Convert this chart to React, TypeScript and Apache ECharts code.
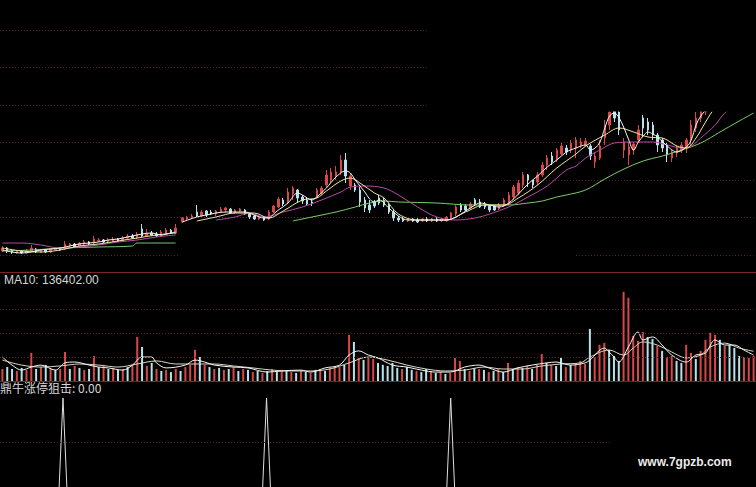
import React, { useEffect, useRef } from "react";
import * as echarts from "echarts";

// ---------- price, left (older) segment: [open, close, low, high] ----------
const leftCandles: number[][] = [
  [4.9,5.2,4.8,5.4],[5.2,4.9,4.7,5.3],[5.0,4.8,4.6,5.1],[4.7,4.9,4.6,5.0],[4.9,4.7,4.6,5.0],
  [4.7,4.9,4.6,5.1],[4.9,5.2,4.8,5.5],[5.1,4.8,4.7,5.2],[4.8,5.0,4.7,5.1],[5.0,4.8,4.7,5.1],
  [4.8,5.1,4.7,5.2],[5.0,5.2,4.9,5.3],[5.2,5.0,4.9,5.3],[5.1,5.6,5.0,5.9],[5.4,5.6,5.2,5.7],
  [5.6,5.3,5.2,5.7],[5.4,5.7,5.3,5.8],[5.6,5.8,5.5,6.0],[5.8,5.6,5.5,5.9],[5.7,6.1,5.6,6.4],
  [5.9,6.0,5.8,6.2],[6.0,5.8,5.7,6.1],[5.8,6.0,5.7,6.2],[5.9,6.1,5.8,6.3],[6.1,5.9,5.8,6.2],
  [5.9,6.2,5.8,6.4],[6.2,6.4,6.0,6.6],[6.4,6.2,6.1,6.6],[6.2,6.6,6.1,6.8],[7.1,6.4,6.3,7.6],
  [6.4,6.7,6.3,7.1],[6.7,6.5,6.4,6.9],[6.6,6.4,6.3,6.8],[6.4,6.8,6.3,7.0],[6.6,7.0,6.5,7.2],
  [7.0,6.7,6.6,7.1],[6.7,7.2,6.6,7.6],
];
const leftMA5: number[][] = [[0,5.0],[2,4.8],[4,4.7],[6,4.8],[8,5.0],[10,5.1],[12,5.2],[14,5.4],[16,5.6],[18,5.7],[20,5.8],[22,6.0],[24,6.1],[26,6.3],[28,6.5],[29,6.6],[31,6.7],[33,6.5],[35,6.7],[36,6.8]];
const leftMA10: number[][] = [[0,5.2],[4,4.9],[8,4.8],[12,5.0],[16,5.4],[20,5.6],[24,5.9],[28,6.2],[32,6.5],[36,6.7]];
const leftMA20: number[][] = [[0,5.7],[4,5.7],[8,5.5],[12,5.2],[16,5.3],[20,5.5],[24,5.8],[28,6.0],[32,6.3],[36,6.5]];
const leftMA60: number[][] = [[0,4.9],[6,5.0],[13,5.2],[20,5.3],[27,5.4],[28,5.7],[36,5.7]];

// ---------- price, right (recent) segment ----------
const rightCandles: number[][] = [
  [7.8,8.2,7.7,8.3],[8.1,8.3,7.9,8.4],[8.2,8.4,8.1,8.6],[8.8,8.4,8.3,9.5],[8.4,8.8,8.3,9.0],
  [8.9,8.5,8.3,9.0],[8.8,8.6,8.5,9.0],[8.6,8.9,8.4,9.0],[8.8,9.1,8.7,9.3],[9.0,9.2,8.7,9.3],
  [9.1,8.7,8.6,9.2],[8.7,9.0,8.6,9.1],[8.9,9.1,8.8,9.2],[9.0,8.6,8.5,9.1],[8.6,8.3,8.1,8.7],
  [8.4,8.1,8.0,8.5],[8.1,8.3,8.0,8.4],[8.3,8.0,7.9,8.4],[8.1,8.8,8.0,9.0],[8.8,9.4,8.7,9.5],
  [9.3,10.1,9.2,10.3],[10.0,9.6,9.4,10.2],[9.7,10.8,9.6,11.2],[10.6,11.2,10.0,11.4],[11.0,10.2,9.7,11.1],
  [10.3,9.9,9.6,10.5],[10.0,9.6,9.5,10.3],[9.8,9.7,9.4,10.1],[10.3,11.0,10.2,11.2],[10.7,11.2,10.5,11.4],
  [11.5,12.5,11.3,13.0],[12.0,12.8,11.7,13.2],[12.4,12.8,12.0,13.4],[12.8,14.0,12.5,14.5],[14.0,12.4,11.7,14.7],
  [11.4,12.4,11.0,12.7],[11.5,11.0,10.8,11.7],[11.0,9.8,9.3,11.3],[10.0,9.2,8.8,10.3],[9.5,9.0,8.7,10.0],
  [9.8,9.4,9.2,10.0],[10.2,9.7,9.5,10.5],[10.0,9.5,9.3,10.2],[9.5,8.8,8.6,9.7],[8.8,8.2,7.9,9.0],
  [8.2,8.0,7.8,8.4],[8.1,7.9,7.8,8.3],[7.9,8.1,7.8,8.2],[8.1,7.9,7.8,8.2],[8.0,7.8,7.7,8.2],
  [7.9,8.1,7.8,8.2],[8.1,7.9,7.8,8.3],[7.9,8.1,7.8,8.2],[8.1,7.9,7.8,8.3],[7.9,8.1,7.8,8.2],
  [7.9,8.3,7.8,8.4],[8.2,8.7,8.0,8.8],[8.6,9.3,8.4,9.5],[9.5,9.0,8.8,9.7],[9.4,9.0,8.9,9.6],
  [9.2,9.6,9.0,9.8],[10.0,9.6,9.4,10.2],[9.8,9.3,9.2,10.1],[9.6,9.3,9.1,9.8],[9.4,9.0,8.8,9.5],
  [9.4,9.0,8.9,9.5],[9.1,9.5,9.0,9.7],[9.4,10.0,9.3,10.2],[9.7,10.5,9.5,10.8],[10.3,11.3,10.0,11.5],
  [10.7,11.7,10.5,12.0],[11.5,12.5,11.2,12.8],[12.5,12.0,11.3,12.6],[12.0,11.5,11.2,12.0],[11.8,12.5,11.5,12.8],
  [12.5,13.5,12.3,13.8],[13.5,14.2,13.0,14.5],[14.4,13.8,13.5,14.8],[14.0,15.0,13.8,15.2],[14.6,15.4,14.5,15.7],
  [15.2,14.8,14.5,15.5],[15.0,15.7,14.7,16.0],[15.2,16.0,14.2,16.3],[15.5,15.8,15.2,16.2],[15.5,15.9,15.3,16.2],
  [15.4,14.4,14.0,15.6],[13.8,14.4,13.2,14.8],[14.2,15.4,14.0,16.0],[16.2,17.5,15.5,18.0],[17.5,18.8,17.0,19.5],
  [19.0,18.2,17.8,19.5],[18.8,17.0,16.5,19.2],[15.0,15.8,14.2,16.2],[14.5,15.3,13.5,15.8],[15.0,15.6,14.5,15.8],
  [16.0,17.0,15.8,17.5],[18.2,17.2,16.3,18.5],[17.8,17.0,16.5,18.2],[17.5,16.5,16.0,17.8],[16.5,15.5,14.8,16.7],
  [16.0,15.2,14.8,16.2],[15.5,14.5,13.8,15.7],[14.2,14.8,13.8,15.0],[14.7,15.2,14.3,15.5],[15.0,15.5,14.7,15.8],
  [15.2,16.0,14.7,16.2],[16.0,17.5,15.5,18.0],[17.2,18.2,16.8,18.8],[18.2,19.0,17.8,19.5],[18.8,19.6,18.5,20.0],
  [19.4,20.2,19.0,20.5],[20.0,20.8,19.6,21.0],[20.8,20.4,20.0,21.2],[20.4,21.2,20.0,21.5],[21.0,21.6,20.6,22.0],
  [21.6,21.2,20.8,22.0],[21.2,22.0,20.8,22.4],[21.8,22.4,21.4,22.8],[22.4,22.0,21.5,22.8],[22.0,22.8,21.6,23.2],
];
const rightMA5: number[][] = [[0,7.8],[3,8.3],[5,8.5],[7,8.7],[9,8.8],[13,8.8],[15,8.5],[17,8.2],[18,8.2],[19,8.6],[20,9.0],[22,9.7],[24,10.7],[25,10.5],[27,10.0],[28,10.3],[30,11.2],[32,12.3],[34,12.9],[35,12.7],[36,12.0],[38,10.8],[39,10.1],[40,9.8],[41,10.0],[43,9.2],[45,8.4],[47,8.0],[51,8.0],[55,8.0],[57,8.3],[59,8.9],[61,9.5],[62,9.7],[64,9.5],[66,9.3],[68,9.7],[70,10.6],[72,11.6],[74,12.4],[76,13.3],[78,14.0],[80,14.8],[82,15.2],[84,15.5],[85,15.0],[86,15.2],[87,15.8],[88,17.2],[89,18.4],[90,18.7],[91,18.2],[92,17.2],[93,16.0],[94,15.0],[95,15.8],[96,16.4],[97,16.8],[98,16.6],[99,16.3],[101,15.4],[103,14.8],[105,15.3],[106,16.0],[107,17.5],[108,18.4],[109,19.0],[110,19.8],[112,20.5],[115,21.3],[119,22.2]];
const rightMA10: number[][] = [[3,7.9],[7,8.3],[11,8.7],[15,8.7],[18,8.2],[21,8.9],[25,10.0],[28,10.2],[30,10.9],[33,11.9],[35,12.2],[37,11.7],[40,10.7],[42,10.2],[45,8.6],[49,8.0],[55,8.0],[59,8.8],[63,9.5],[67,9.5],[70,10.2],[74,11.5],[78,13.2],[82,14.6],[84,15.4],[88,16.5],[91,17.2],[94,16.8],[97,16.3],[100,16.2],[103,15.4],[105,15.2],[107,16.2],[109,17.8],[111,19.2],[115,20.5],[119,21.5]];
const rightMA20: number[][] = [[7,8.0],[11,8.3],[14,8.7],[17,8.3],[21,8.8],[25,9.3],[29,10.0],[33,10.8],[35,11.3],[38,11.4],[42,11.2],[45,10.5],[49,9.3],[53,8.3],[57,8.0],[61,8.2],[64,8.6],[68,9.3],[72,10.3],[76,11.4],[80,13.0],[82,13.4],[84,14.2],[87,15.0],[90,15.7],[94,15.8],[98,15.8],[101,15.5],[104,15.2],[106,15.4],[108,16.2],[111,17.5],[113,18.7],[116,19.8],[119,20.8]];
const rightMA60: number[][] = [[23,7.9],[27,8.3],[32,8.8],[36,9.3],[39,9.7],[42,9.9],[45,9.8],[53,9.7],[60,9.5],[68,9.5],[72,9.7],[75,9.9],[78,10.3],[80,10.5],[84,11.0],[88,12.1],[92,13.1],[96,13.9],[100,14.4],[104,15.0],[108,15.7],[112,16.8],[116,17.9],[119,18.7]];

// ---------- volume ----------
const volumes: number[] = [
  55000,64000,55000,46000,60000,51000,129000,55000,64000,74000,60000,51000,55000,133000,55000,69000,60000,51000,55000,115000,
  64000,74000,55000,60000,51000,55000,64000,74000,202000,156000,69000,83000,55000,46000,51000,41000,55000,46000,64000,74000,
  143000,110000,74000,64000,55000,60000,51000,55000,64000,46000,55000,51000,41000,46000,37000,46000,55000,41000,51000,46000,
  41000,37000,46000,41000,37000,51000,55000,46000,60000,69000,64000,74000,212000,179000,106000,97000,106000,101000,83000,74000,
  69000,83000,60000,55000,64000,51000,46000,41000,55000,46000,37000,41000,32000,37000,106000,92000,55000,46000,60000,55000,
  51000,41000,46000,55000,41000,83000,55000,64000,60000,69000,55000,74000,124000,83000,74000,69000,106000,64000,74000,83000,
  92000,78000,239000,110000,166000,175000,143000,115000,92000,409000,382000,207000,184000,225000,202000,193000,161000,138000,110000,115000,
  92000,83000,166000,129000,101000,138000,189000,221000,212000,189000,161000,166000,152000,115000,110000,106000,115000,
];
const volUp: number[] = [
  1,0,0,1,0,1,1,0,1,0,1,0,1,1,0,1,0,1,0,1,
  0,1,0,1,0,1,0,1,1,0,1,0,1,0,1,0,1,0,1,1,
  1,0,1,0,1,0,1,0,1,0,1,0,1,0,1,0,1,0,1,0,
  1,0,1,0,1,0,1,0,1,1,1,0,1,0,1,0,1,1,0,0,
  0,0,0,1,0,0,1,0,0,1,0,1,0,1,1,1,0,1,0,1,
  0,1,0,1,0,1,0,1,0,1,0,1,1,0,1,0,0,1,0,1,
  1,1,0,1,1,1,0,0,0,1,1,1,1,1,0,0,1,0,1,1,
  0,0,1,1,0,1,1,1,1,0,1,0,0,0,1,1,1,
];
const volMA5: number[][] = [[0,110000],[2,73000],[4,50000],[6,64000],[8,73000],[11,50000],[13,83000],[15,87000],[18,73000],[20,64000],[22,60000],[25,50000],[27,73000],[29,110000],[31,110000],[32,83000],[34,60000],[38,73000],[40,96000],[42,87000],[44,73000],[48,64000],[51,60000],[55,41000],[58,46000],[62,50000],[64,41000],[67,60000],[70,73000],[72,119000],[74,138000],[76,119000],[78,106000],[81,73000],[84,64000],[87,50000],[90,41000],[93,41000],[96,64000],[99,73000],[101,60000],[104,41000],[107,60000],[110,73000],[113,83000],[115,87000],[118,73000],[121,83000],[122,96000],[125,151000],[126,133000],[127,110000],[128,87000],[130,156000],[132,225000],[133,188000],[135,202000],[137,165000],[139,119000],[142,87000],[144,119000],[146,128000],[148,188000],[150,165000],[152,165000],[154,142000],[156,119000]];
const volMA10: number[][] = [[0,96000],[4,73000],[8,64000],[12,69000],[16,78000],[20,73000],[24,64000],[28,78000],[32,92000],[36,78000],[40,78000],[44,78000],[48,69000],[52,60000],[56,50000],[60,46000],[64,46000],[68,55000],[72,83000],[76,110000],[80,96000],[84,73000],[88,55000],[92,46000],[96,50000],[100,64000],[104,55000],[108,55000],[112,69000],[116,78000],[120,83000],[122,110000],[126,142000],[129,119000],[131,151000],[133,179000],[136,165000],[139,133000],[142,106000],[145,119000],[147,156000],[150,174000],[153,151000],[156,136402]];

// ---------- 鼎牛涨停狙击 indicator ----------
const signalPoints: number[][] = [[0,0],[12,0],[13,100],[14,0],[54,0],[55,100],[56,0],[92,0],[93,100],[94,0],[156,0]];

const RED = "#d84848";
const CYAN = "#b6e2ea";
const GRIDC = "#5e2020";
const SEP = "#7a2626";
const DOT = [1, 2];

export default function App() {
  const ref = useRef<HTMLDivElement>(null);
  useEffect(() => {
    if (!ref.current) return;
    const chart = echarts.init(ref.current, undefined, { renderer: "svg" });
    const leftCats = leftCandles.map((_, i) => String(i));
    const rightCats = rightCandles.map((_, i) => String(i));
    const volCats = volumes.map((_, i) => String(i));
    const hiddenVal = { axisLine: { show: false }, axisTick: { show: false }, axisLabel: { show: false } };
    const decorSplit = { show: true, lineStyle: { color: GRIDC, type: DOT, width: 1 } };
    const ml = (data: any[]) => ({
      silent: true, symbol: ["none", "none"], label: { show: false },
      lineStyle: { color: GRIDC, type: DOT, width: 1 }, emphasis: { disabled: true }, data,
    });
    const maLine = (name: string, xi: number, yi: number, data: number[][], color: string, extra: any = {}) => ({
      name, type: "line", xAxisIndex: xi, yAxisIndex: yi, data, smooth: 0.35, showSymbol: false,
      lineStyle: { color, width: 1 }, itemStyle: { color }, silent: true, ...extra,
    });
    const candleStyle = { color: RED, color0: CYAN, borderColor: RED, borderColor0: CYAN, borderWidth: 1 };
    chart.setOption({
      animation: false,
      backgroundColor: "#000000",
      title: [
        { text: "MA10: 136402.00", left: 4, top: 274, padding: 0,
          textStyle: { color: "#d6d6d6", fontSize: 12, fontWeight: "normal", fontFamily: "Liberation Sans, Arial, sans-serif" } },
        { text: "鼎牛涨停狙击: 0.00", left: 0, top: 381, padding: 0,
          textStyle: { color: "#d6d6d6", fontSize: 12, fontWeight: "normal", fontFamily: "Noto Sans CJK SC, sans-serif" } },
        { text: "www.7gpzb.com", left: 638, top: 456, padding: 0,
          textStyle: { color: "#ececec", fontSize: 12, fontWeight: "bold", fontFamily: "Liberation Sans, Arial, sans-serif" } },
      ],
      // black mask: the recent chart's window ends at its top edge (y = 112)
      graphic: [
        { type: "rect", z: 5, silent: true, shape: { x: 180, y: 0, width: 576, height: 111.5 }, style: { fill: "#000000" } },
      ],
      grid: [
        { left: 0, top: 30, width: 428, height: 75 },
        { left: 0, top: 142.5, width: 756, height: 75 },
        { left: 0, top: 30, width: 178, height: 240 },
        { left: 180, top: 112, width: 578, height: 158 },
        { left: 0, top: 272, width: 756, height: 109 },
        { left: 0, top: 398, width: 756, height: 89 },
      ],
      xAxis: [
        { gridIndex: 0, type: "value", min: 0, max: 1, show: false },
        { gridIndex: 1, type: "value", min: 0, max: 1, show: false },
        { gridIndex: 2, type: "category", data: leftCats, show: false },
        { gridIndex: 3, type: "category", data: rightCats, show: false },
        { gridIndex: 4, type: "category", data: volCats, axisLine: { show: true, onZero: false, lineStyle: { color: SEP } },
          axisTick: { show: false }, axisLabel: { show: false } },
        { gridIndex: 4, type: "value", position: "top", min: 0, max: 1, axisLine: { show: true, onZero: false, lineStyle: { color: SEP } },
          axisTick: { show: false }, axisLabel: { show: false }, splitLine: { show: false } },
        { gridIndex: 5, type: "category", data: volCats, boundaryGap: false, show: false },
      ],
      yAxis: [
        { gridIndex: 0, type: "value", min: 0, max: 2, interval: 1, z: 10, ...hiddenVal, splitLine: decorSplit },
        { gridIndex: 1, type: "value", min: 0, max: 2, interval: 1, ...hiddenVal, splitLine: decorSplit },
        { gridIndex: 2, type: "value", min: 3, max: 27, show: false },
        { gridIndex: 3, type: "value", min: 3, max: 18.8, show: false },
        { gridIndex: 4, type: "value", min: 0, max: 500000, show: false },
        { gridIndex: 5, type: "value", min: 20, max: 100, show: false },
      ],
      series: [
        { type: "candlestick", xAxisIndex: 2, yAxisIndex: 2, data: leftCandles, barWidth: 2, itemStyle: candleStyle, silent: true },
        maLine("L60", 2, 2, leftMA60, "#7ccc6c", { markLine: ml([{ yAxis: 4.5 }]) }),
        maLine("L20", 2, 2, leftMA20, "#b84aa8"),
        maLine("L10", 2, 2, leftMA10, "#f2e6a0"),
        maLine("L5", 2, 2, leftMA5, "#f4f4f4"),
        { type: "candlestick", xAxisIndex: 3, yAxisIndex: 3, data: rightCandles, barWidth: 2, itemStyle: candleStyle, silent: true, clip: true },
        maLine("R60", 3, 3, rightMA60, "#7ccc6c", { markLine: ml([[{ coord: [82, 4.5] }, { coord: [119, 4.5] }]]) }),
        maLine("R20", 3, 3, rightMA20, "#b84aa8"),
        maLine("R10", 3, 3, rightMA10, "#f2e6a0"),
        maLine("R5", 3, 3, rightMA5, "#f4f4f4"),
        { type: "bar", xAxisIndex: 4, yAxisIndex: 4, barWidth: 2, silent: true,
          data: volumes.map((v, i) => ({ value: v, itemStyle: { color: volUp[i] ? RED : CYAN } })),
          markLine: ml([{ yAxis: 110000 }, { yAxis: 220000 }, { yAxis: 330000 }]) },
        maLine("V10", 4, 4, volMA10, "#d8d8c0"),
        maLine("V5", 4, 4, volMA5, "#f6f6f6"),
        { type: "line", xAxisIndex: 6, yAxisIndex: 5, data: signalPoints, showSymbol: false, silent: true,
          lineStyle: { color: "#dedede", width: 1 }, itemStyle: { color: "#dedede" },
          markLine: ml([[{ coord: [0, 60] }, { coord: [126, 60] }]]) },
      ],
    });
    return () => chart.dispose();
  }, []);
  return (
    <div
      ref={ref}
      style={{ position: "absolute", left: 0, top: 0, width: 756, height: 487, background: "#000" }}
    />
  );
}
